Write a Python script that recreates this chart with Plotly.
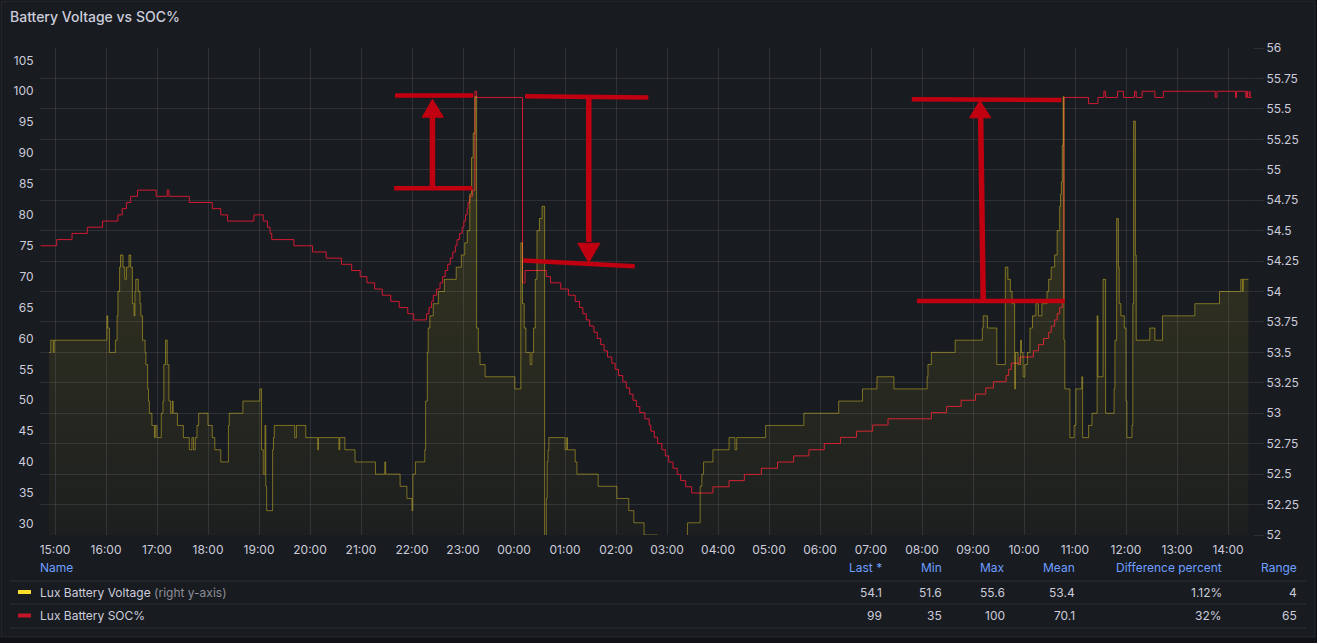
import plotly.graph_objects as go
from datetime import datetime, timedelta

# ---------------- data ----------------
START_DAY = "2024-05-14"

soc_times = [
    "14:43", "15:02", "15:20", "15:38", "15:56", "16:14", "16:19", "16:24", "16:29", "16:37",
    "16:59", "17:12", "17:14", "17:38", "18:05", "18:15", "18:23", "18:54", "19:05", "19:10",
    "19:13", "19:15", "19:41", "20:03", "20:19", "20:37", "20:49", "20:59", "21:07", "21:16",
    "21:25", "21:35", "21:45", "21:55", "22:02", "22:17", "22:20", "22:23", "22:25", "22:29",
    "22:33", "22:36", "22:39", "22:42", "22:45", "22:48", "22:51", "22:53", "22:56", "22:59",
    "23:01", "23:03", "23:05", "23:06", "23:08", "23:11", "23:14", "23:16", "00:10", "00:13",
    "00:38", "00:43", "00:55", "01:04", "01:12", "01:17", "01:21", "01:25", "01:29", "01:34",
    "01:38", "01:42", "01:46", "01:50", "01:55", "01:59", "02:03", "02:08", "02:12", "02:16",
    "02:20", "02:24", "02:28", "02:34", "02:39", "02:41", "02:45", "02:49", "02:54", "02:58",
    "03:02", "03:07", "03:12", "03:16", "03:22", "03:29", "03:54", "04:13", "04:31", "04:51",
    "05:10", "05:29", "05:47", "06:05", "06:24", "06:43", "07:02", "07:20", "08:11", "08:29",
    "08:46", "09:03", "09:15", "09:24", "09:39", "09:42", "09:45", "09:55", "10:11", "10:17",
    "10:23", "10:29", "10:32", "10:36", "10:39", "10:42", "10:45", "10:47", "11:16", "11:27",
    "11:34", "11:36", "11:50", "11:57", "12:10", "12:12", "12:19", "12:34", "12:44", "13:45",
    "13:47", "14:09", "14:10", "14:21", "14:22", "14:23", "14:25", "14:26", "14:28",
]
soc_values = [
    75, 76, 77, 78, 79, 80, 81, 82, 83, 84,
    83, 84, 83, 82, 81, 80, 79, 80, 79, 78,
    77, 76, 75, 74, 73, 72, 71, 70, 69, 68,
    67, 66, 65, 64, 63, 64, 65, 66, 67, 68,
    69, 70, 71, 72, 73, 74, 75, 76, 77, 78,
    79, 80, 81, 82, 83, 84, 100, 99, 69, 71,
    70, 69, 68, 67, 66, 65, 64, 63, 62, 61,
    60, 59, 58, 57, 56, 55, 54, 53, 52, 51,
    50, 49, 48, 47, 46, 45, 44, 43, 42, 41,
    40, 39, 38, 37, 36, 35, 36, 37, 38, 39,
    40, 41, 42, 43, 44, 45, 46, 47, 48, 49,
    50, 51, 52, 53, 54, 55, 56, 57, 58, 59,
    60, 61, 62, 63, 64, 65, 66, 99, 98, 99,
    100, 99, 100, 99, 100, 99, 100, 99, 100, 99,
    100, 99, 100, 99, 100, 99, 100, 99, 99,
]

volt_times = [
    "14:53", "14:55", "14:58", "14:59", "16:01", "16:02", "16:04", "16:11", "16:13", "16:14",
    "16:16", "16:17", "16:20", "16:22", "16:24", "16:27", "16:29", "16:31", "16:33", "16:34",
    "16:35", "16:38", "16:40", "16:41", "16:43", "16:46", "16:47", "16:49", "16:50", "16:51",
    "16:54", "16:57", "16:58", "17:00", "17:05", "17:07", "17:08", "17:10", "17:12", "17:14",
    "17:16", "17:18", "17:19", "17:24", "17:31", "17:38", "17:41", "17:43", "17:45", "17:47",
    "17:49", "18:00", "18:05", "18:08", "18:15", "18:24", "18:25", "18:41", "19:01", "19:03",
    "19:05", "19:07", "19:08", "19:09", "19:16", "19:17", "19:18", "19:42", "19:44", "19:55",
    "20:09", "20:10", "20:34", "20:35", "20:41", "20:53", "21:17", "21:28", "21:29", "21:46",
    "21:54", "22:00", "22:01", "22:04", "22:15", "22:16", "22:18", "22:19", "22:21", "22:25",
    "22:31", "22:38", "22:52", "22:58", "23:02", "23:05", "23:08", "23:10", "23:12", "23:14",
    "23:16", "23:18", "23:20", "23:26", "00:01", "00:08", "00:10", "00:12", "00:14", "00:19",
    "00:21", "00:23", "00:25", "00:27", "00:30", "00:33", "00:36", "00:38", "00:39", "00:40",
    "00:41", "01:00", "01:02", "01:03", "01:12", "01:14", "01:39", "02:01", "02:15", "02:21",
    "02:33", "02:49", "02:58", "03:15", "03:24", "03:39", "03:41", "03:43", "03:54", "04:13",
    "04:20", "04:22", "04:56", "05:41", "06:22", "06:50", "07:07", "07:27", "08:06", "08:07",
    "08:11", "08:39", "09:11", "09:12", "09:17", "09:28", "09:38", "09:41", "09:44", "09:46",
    "09:49", "09:50", "09:53", "09:56", "09:57", "09:59", "10:01", "10:04", "10:07", "10:10",
    "10:14", "10:17", "10:21", "10:27", "10:29", "10:32", "10:36", "10:39", "10:42", "10:43",
    "10:44", "10:45", "10:46", "10:47", "10:48", "10:54", "10:59", "11:01", "11:08", "11:09",
    "11:16", "11:20", "11:26", "11:27", "11:33", "11:36", "11:46", "11:47", "11:49", "11:51",
    "11:52", "11:54", "11:58", "12:00", "12:01", "12:07", "12:08", "12:09", "12:11", "12:12",
    "12:28", "12:34", "12:43", "13:21", "13:50", "14:15", "14:17", "14:18", "14:24",
]
volt_values = [
    53.5, 53.6, 53.5, 53.6, 53.8, 53.7, 53.5, 53.6, 53.8, 54.0,
    54.2, 54.3, 54.2, 54.1, 54.2, 54.3, 54.2, 53.9, 53.8, 54.0,
    54.1, 54.0, 53.9, 53.8, 53.6, 53.5, 53.4, 53.2, 53.1, 53.0,
    52.9, 52.8, 52.9, 52.8, 53.0, 53.1, 53.4, 53.6, 53.4, 53.1,
    53.0, 53.1, 53.0, 52.9, 52.8, 52.7, 52.8, 52.7, 52.8, 52.9,
    53.0, 52.9, 52.8, 52.7, 52.6, 52.9, 53.0, 53.1, 53.2, 52.7,
    52.5, 52.9, 52.4, 52.2, 52.7, 52.8, 52.9, 52.8, 52.9, 52.8,
    52.7, 52.8, 52.7, 52.8, 52.7, 52.6, 52.5, 52.6, 52.5, 52.4,
    52.3, 52.2, 52.5, 52.6, 52.7, 53.1, 53.5, 53.7, 53.8, 53.9,
    54.0, 54.1, 54.2, 54.3, 54.4, 54.5, 54.8, 55.1, 55.3, 55.6,
    53.7, 53.5, 53.4, 53.3, 53.2, 54.4, 53.9, 53.7, 53.5, 53.4,
    53.5, 53.7, 54.1, 54.5, 54.6, 54.7, 51.6, 52.3, 52.6, 52.7,
    52.8, 52.7, 52.8, 52.7, 52.6, 52.5, 52.4, 52.3, 52.2, 52.1,
    52.0, 51.9, 51.8, 51.9, 52.1, 52.4, 52.5, 52.6, 52.7, 52.8,
    52.7, 52.8, 52.9, 53.0, 53.1, 53.2, 53.3, 53.2, 53.3, 53.4,
    53.5, 53.6, 53.7, 53.8, 53.7, 53.4, 54.2, 54.1, 54.0, 53.9,
    53.2, 53.5, 53.4, 53.6, 53.5, 53.3, 53.4, 53.5, 53.7, 53.8,
    53.9, 53.8, 53.9, 54.0, 54.1, 54.2, 54.3, 54.5, 54.7, 54.8,
    54.9, 55.2, 55.6, 53.6, 53.2, 52.8, 52.9, 53.2, 53.3, 52.8,
    52.9, 53.0, 53.8, 53.3, 54.1, 53.0, 53.2, 53.6, 54.6, 54.2,
    53.9, 53.8, 53.7, 53.1, 52.8, 52.9, 53.9, 55.4, 54.3, 53.6,
    53.7, 53.6, 53.8, 53.9, 54.0, 54.1, 54.0, 54.1, 54.1,
]

x_range = ["2024-05-14 14:42:20", "2024-05-15 14:29:25"]
soc_range = [28.2, 107.0]
volt_range = [52, 56]
soc_ticks = [30, 35, 40, 45, 50, 55, 60, 65, 70, 75, 80, 85, 90, 95, 100, 105]
volt_tick_values = [52, 52.25, 52.5, 52.75, 53, 53.25, 53.5, 53.75, 54,
                    54.25, 54.5, 54.75, 55, 55.25, 55.5, 55.75, 56]
volt_tick_labels = ["52", "52.25", "52.5", "52.75", "53", "53.25", "53.5", "53.75", "54",
                    "54.25", "54.5", "54.75", "55", "55.25", "55.5", "55.75", "56"]

title_text = "Battery Voltage vs SOC%"
series_names = ["Lux Battery Voltage", "Lux Battery SOC%"]
series_suffix = [" (right y-axis)", ""]
stat_headers = ["Last *", "Min", "Max", "Mean", "Difference percent", "Range"]
voltage_stats = ["54.1", "51.6", "55.6", "53.4", "1.12%", "4"]
soc_stats = ["99", "35", "100", "70.1", "32%", "65"]

# hand-drawn red markers on the screenshot (time, SOC%)
markup_bars = [
    (("21:40", 99.3), ("23:12", 99.3)),
    (("21:39", 84.3), ("23:11", 84.3)),
    (("00:13", 99.2), ("02:38", 99.0)),
    (("00:11", 72.6), ("02:22", 71.7)),
    (("07:48", 98.7), ("10:44", 98.6)),
    (("07:54", 66.05), ("10:48", 66.05)),
]
markup_shafts = [
    (("22:24", 84.3), ("22:24", 96.4)),
    (("01:28", 99.0), ("01:28", 75.6)),
    (("09:12", 66.05), ("09:09", 96.1)),
]
markup_heads = [
    (("22:12", 95.8), ("22:24", 98.7), ("22:37", 95.8)),
    (("01:15", 75.4), ("01:28", 72.3), ("01:41", 75.4)),
    (("08:56", 95.7), ("09:08", 98.5), ("09:21", 95.7)),
]

# ---------------- styling ----------------
PAGE_BG = "#111217"
PANEL_BG = "#181b1f"
TEXT = "#ccccdc"
GRID = "rgba(204,204,220,0.12)"
BLUE = "#6e9fff"
YELLOW = "#fade2a"
RED = "#d01a33"
MARK = "#c00010"
FONT = "Inter, Roboto, sans-serif"

W_FIG, H_FIG = 1317, 643
L, R, T, B = 40, 1253, 48, 535
PW, PH = R - L, B - T


def px(xp):
    return (xp - L) / PW


def py(yp):
    return (B - yp) / PH


base_day = datetime.fromisoformat(START_DAY)
day1 = base_day + timedelta(days=1)


def stamps(times):
    out, day, prev = [], 0, None
    for t in times:
        h, m = map(int, t.split(":"))
        mins = h * 60 + m
        if prev is not None and mins < prev:
            day += 1
        prev = mins
        out.append(base_day + timedelta(days=day, minutes=mins))
    return out


def one_stamp(t):
    h, m = map(int, t.split(":"))
    d = base_day if h >= 14 and h < 24 and (h > 14 or m >= 40) else day1
    return d + timedelta(hours=h, minutes=m)


soc_x = stamps(soc_times)
volt_x = stamps(volt_times)

fig = go.Figure()

fig.add_trace(go.Scatter(
    x=volt_x, y=volt_values, yaxis="y2", mode="lines", name=series_names[0],
    line=dict(color="rgba(250,222,42,0.42)", width=1, shape="hv"),
    fill="tozeroy",
    fillgradient=dict(type="vertical",
                      colorscale=[[0, "rgba(250,222,42,0.02)"], [1, "rgba(250,222,42,0.16)"]],
                      start=52, stop=55.6),
    hoverinfo="skip",
))
fig.add_trace(go.Scatter(
    x=soc_x, y=soc_values, yaxis="y", mode="lines", name=series_names[1],
    line=dict(color=RED, width=1, shape="hv"), hoverinfo="skip",
))

shapes = []
# panel background
shapes.append(dict(type="rect", xref="paper", yref="paper", layer="below",
                   x0=px(1), x1=px(1315), y0=py(637), y1=py(1),
                   fillcolor=PANEL_BG, line=dict(color="rgba(204,204,220,0.10)", width=1)))

# hand-drawn markup
for (a, b) in markup_bars:
    shapes.append(dict(type="line", xref="x", yref="y", x0=one_stamp(a[0]), y0=a[1],
                       x1=one_stamp(b[0]), y1=b[1], line=dict(color=MARK, width=4.5), layer="above"))
for (a, b) in markup_shafts:
    shapes.append(dict(type="line", xref="x", yref="y", x0=one_stamp(a[0]), y0=a[1],
                       x1=one_stamp(b[0]), y1=b[1], line=dict(color=MARK, width=5.5), layer="above"))


def pstr(t, v):
    return one_stamp(t).strftime("%Y-%m-%d_%H:%M:%S") + "," + str(v)


for (a, b, c) in markup_heads:
    path = "M " + pstr(*a) + " L " + pstr(*b) + " L " + pstr(*c) + " Z"
    shapes.append(dict(type="path", xref="x", yref="y", path=path,
                       fillcolor=MARK, line=dict(color=MARK, width=1), layer="above"))

# legend table lines
for yline in (581, 604, 628):
    shapes.append(dict(type="line", xref="paper", yref="paper", x0=px(10), x1=px(1306),
                       y0=py(yline), y1=py(yline), line=dict(color="rgba(204,204,220,0.12)", width=1)))
# legend swatches
for ycen, col in ((592, YELLOW), (615.5, "#c4162a")):
    shapes.append(dict(type="rect", xref="paper", yref="paper", x0=px(18), x1=px(31),
                       y0=py(ycen + 2), y1=py(ycen - 2), fillcolor=col, line=dict(width=0)))

annotations = []
annotations.append(dict(text=title_text, x=px(8), y=py(17), xref="paper", yref="paper",
                        xanchor="left", yanchor="middle", showarrow=False,
                        font=dict(family=FONT, size=14, color=TEXT, weight=500)))
annotations.append(dict(text="Name", x=px(38), y=py(567.5), xref="paper", yref="paper",
                        xanchor="left", yanchor="middle", showarrow=False,
                        font=dict(family=FONT, size=12, color=BLUE)))
col_right = [884, 944, 1007, 1077, 1224, 1299]
for hdr, xr in zip(stat_headers, col_right):
    annotations.append(dict(text=hdr, x=px(xr), y=py(567.5), xref="paper", yref="paper",
                            xanchor="right", yanchor="middle", showarrow=False,
                            font=dict(family=FONT, size=12, color=BLUE)))
for row_y, name, suffix, stats in ((592, series_names[0], series_suffix[0], voltage_stats),
                                    (615.5, series_names[1], series_suffix[1], soc_stats)):
    label = name + ("<span style='color:#8e8e99'>" + suffix + "</span>" if suffix else "")
    annotations.append(dict(text=label, x=px(38), y=py(row_y), xref="paper", yref="paper",
                            xanchor="left", yanchor="middle", showarrow=False,
                            font=dict(family=FONT, size=12, color=TEXT)))
    for val, xr in zip(stats, col_right):
        annotations.append(dict(text=val, x=px(xr), y=py(row_y), xref="paper", yref="paper",
                                xanchor="right", yanchor="middle", showarrow=False,
                                font=dict(family=FONT, size=12, color=TEXT)))

fig.update_layout(
    width=W_FIG, height=H_FIG,
    margin=dict(l=L, r=W_FIG - R, t=T, b=H_FIG - B, pad=0),
    paper_bgcolor=PAGE_BG, plot_bgcolor=PANEL_BG,
    showlegend=False,
    font=dict(family=FONT, size=12, color=TEXT),
    xaxis=dict(type="date", range=x_range, showgrid=True, gridcolor=GRID, gridwidth=1,
               tickformat="%H:%M", dtick=3600000, tick0="2024-05-14 15:00",
               zeroline=False, showline=False, ticks="outside", ticklen=4,
               tickcolor="rgba(0,0,0,0)", tickfont=dict(family=FONT, size=12, color=TEXT)),
    yaxis=dict(range=soc_range, tickmode="array", tickvals=soc_ticks, showgrid=False,
               zeroline=False, showline=False, ticks="outside", ticklen=3,
               tickcolor="rgba(0,0,0,0)", tickfont=dict(family=FONT, size=12, color=TEXT)),
    yaxis2=dict(range=volt_range, overlaying="y", side="right", tickmode="array",
                tickvals=volt_tick_values, ticktext=volt_tick_labels, showgrid=True,
                gridcolor=GRID, gridwidth=1, zeroline=False, showline=False,
                ticks="outside", ticklen=10, tickcolor=GRID,
                tickfont=dict(family=FONT, size=12, color=TEXT)),
    shapes=shapes, annotations=annotations,
)

fig.write_html("out.html", config={"displayModeBar": False},
               post_script="document.body.style.margin='0px';document.body.style.overflow='hidden';")
